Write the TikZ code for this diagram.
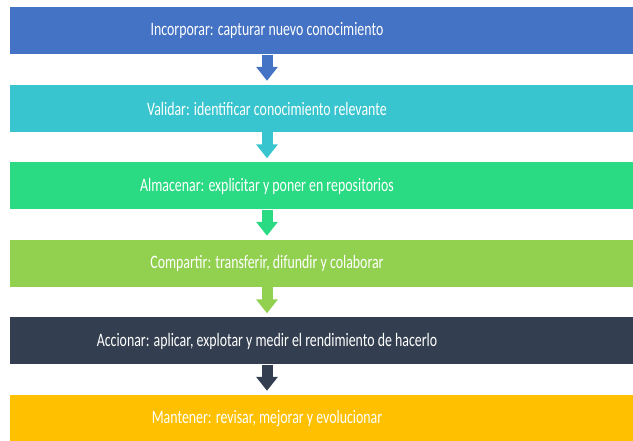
\documentclass[tikz,border=0pt]{standalone}
\usepackage{fontspec}
\newfontfamily\barfont[FakeStretch=0.73]{Carlito}
\usetikzlibrary{arrows.meta}
\definecolor{incblue}{HTML}{4472C4}
\definecolor{valteal}{HTML}{38C5CF}
\definecolor{almgreen}{HTML}{2BDB83}
\definecolor{comgreen}{HTML}{92D050}
\definecolor{accslate}{HTML}{333F50}
\definecolor{mangold}{HTML}{FFC000}
\tikzset{
  bar/.style={fill=#1, minimum width=630pt, minimum height=47pt, inner sep=0pt},
  bartext/.style={text=white, font=\barfont\fontsize{19}{22}\selectfont, xshift=-58pt, inner sep=0pt},
  flow/.style={draw=#1, line width=11pt, -{Triangle[width=21pt,length=14pt]}, shorten >=4pt}
}
\begin{document}
\begin{tikzpicture}[x=1pt,y=1pt]
                \useasboundingbox (0,0) rectangle (633,441);
                \node[bar=incblue, label={[bartext]center:Incorporar: capturar nuevo conocimiento}] (inc) at (325,410) {};
                \node[bar=valteal, label={[bartext]center:Validar: identificar conocimiento relevante}] (val) at (325,332.5) {};
                \node[bar=almgreen, label={[bartext]center:Almacenar: explicitar y poner en repositorios}] (alm) at (325,255) {};
                \node[bar=comgreen, label={[bartext]center:Compartir: transferir, difundir y colaborar}] (com) at (325,177.5) {};
                \node[bar=accslate, label={[bartext]center:Accionar: aplicar, explotar y medir el rendimiento de hacerlo}] (acc) at (325,100) {};
                \node[bar=mangold, label={[bartext]center:Mantener: revisar, mejorar y evolucionar}] (man) at (325,22.5) {};
                \draw[flow=incblue] ([xshift=-58pt]inc.south) -- ([xshift=-58pt]val.north);
                \draw[flow=valteal] ([xshift=-58pt]val.south) -- ([xshift=-58pt]alm.north);
                \draw[flow=almgreen] ([xshift=-58pt]alm.south) -- ([xshift=-58pt]com.north);
                \draw[flow=comgreen] ([xshift=-58pt]com.south) -- ([xshift=-58pt]acc.north);
                \draw[flow=accslate] ([xshift=-58pt]acc.south) -- ([xshift=-58pt]man.north);
            \end{tikzpicture}
\end{document}
